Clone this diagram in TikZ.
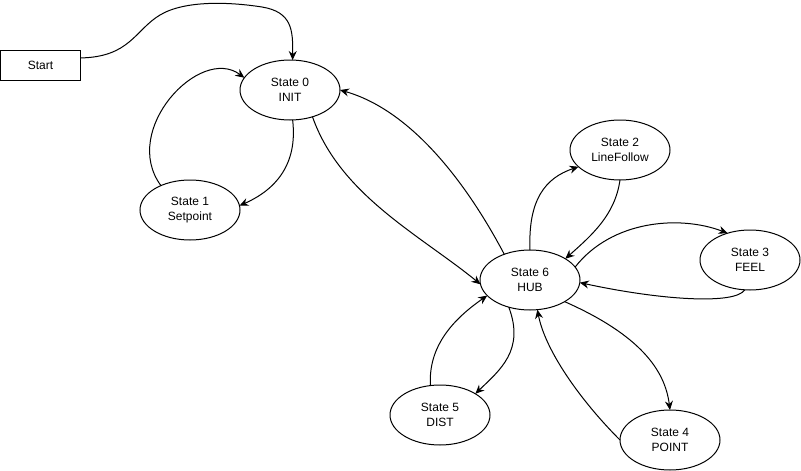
\documentclass[tikz,border=0pt]{standalone}
\usepackage{fontspec}
\setmainfont{Liberation Sans}
\usetikzlibrary{shapes.geometric,arrows.meta}
\begin{document}
\begin{tikzpicture}[x=1pt,y=-1pt,
  every node/.style={font=\fontsize{12}{14.4}\selectfont, align=center, outer sep=0pt, inner sep=0pt},
  state/.style={ellipse, draw, line width=1pt, minimum width=100pt, minimum height=60pt},
  startbox/.style={rectangle, draw, line width=1pt, minimum width=80pt, minimum height=30pt},
  link/.style={line width=1pt, -{Stealth[length=9pt,width=8pt,inset=3pt]}}]
\useasboundingbox (0,0) rectangle (801,471);
\fill[white] (0,0) rectangle (801,471);

% states
\node[startbox] (st) at (40.5,65) {Start};
\node[state] (s0) at (290,90) {State 0\\INIT};
\node[state] (s1) at (190,210) {State 1\\Setpoint};
\node[state] (s2) at (620,150) {State 2\\LineFollow};
\node[state] (s3) at (750,260) {State 3\\FEEL};
\node[state] (s6) at (530,280) {State 6\\HUB};
\node[state] (s5) at (440,415) {State 5\\DIST};
\node[state] (s4) at (670,440) {State 4\\POINT};

% transitions
\draw[link] (st.10) .. controls (130,57) and (135,30) .. (160,15)
  .. controls (185,0) and (230,2) .. (262,7)
  .. controls (292,12) and (293,30) .. (s0.85);
\draw[link] (s1.140) .. controls (120,130) and (200,45) .. (s0.165);
\draw[link] (s0.-85) .. controls (298,165) and (275,190) .. (s1.5);
\draw[link] (s0.-50) .. controls (340,195) and (420,235) .. (s6.185);
\draw[link] (s6.135) .. controls (465,180) and (410,110) .. (s0.east);
\draw[link] (s6.north) .. controls (528,200) and (545,178) .. (s2.202);
\draw[link] (s2.south) .. controls (615,215) and (592,235) .. (s6.31);
\draw[link] (s6.16) .. controls (612,220) and (680,215) .. (s3.130);
\draw[link] (s3.-100) .. controls (735,305) and (660,300) .. (s6.-3);
\draw[link] (s6.-32) .. controls (640,335) and (665,370) .. (s4.north);
\draw[link] (s4.180) .. controls (580,400) and (545,350) .. (s6.-76);
\draw[link] (s6.-128) .. controls (525,350) and (500,370) .. (s5.31);
\draw[link] (s5.108) .. controls (428,345) and (455,318) .. (s6.200);
\end{tikzpicture}
\end{document}
